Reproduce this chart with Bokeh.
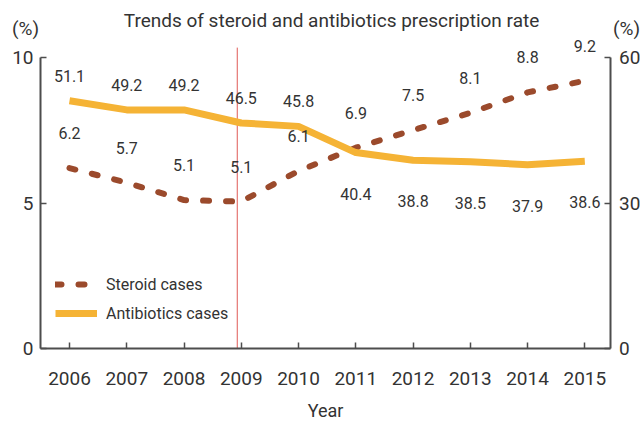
from bokeh.plotting import figure
from bokeh.models import (Range1d, LinearAxis, FixedTicker, Label, LabelSet, Legend, LegendItem, ColumnDataSource)
from bokeh.embed import file_html
from bokeh.resources import INLINE
from bokeh.core.properties import value

years = [2006, 2007, 2008, 2009, 2010, 2011, 2012, 2013, 2014, 2015]
steroid = [6.2, 5.7, 5.1, 5.05, 6.1, 6.9, 7.5, 8.1, 8.8, 9.2]
steroid_labels = ["6.2", "5.7", "5.1", "5.1", "6.1", "6.9", "7.5", "8.1", "8.8", "9.2"]
antibiotics = [51.1, 49.2, 49.2, 46.5, 45.8, 40.4, 38.8, 38.5, 37.9, 38.6]
antibiotics_labels = ["51.1", "49.2", "49.2", "46.5", "45.8", "40.4", "38.8", "38.5", "37.9", "38.6"]
left_ticks = [0, 5, 10]
right_ticks = [0, 30, 60]
marker_year = 2008.93
marker_top = 10.34
title_text = "Trends of steroid and antibiotics prescription rate"

FONT = "Roboto"
TXT = "#333333"
AX = "#4d4d4d"
BROWN = "#9b4a2c"
ORANGE = "#f5b335"

# frame fills the canvas; axes are pinned at fixed data locations
X0, X1 = 2004.795, 2016.025
Y0, Y1 = -2.543, 11.959
R0, R1 = Y0 * 6, Y1 * 6
LEFT_AX, RIGHT_AX = 2005.494, 2015.442

p = figure(width=643, height=422, output_backend="svg", toolbar_location=None,
           x_range=Range1d(X0, X1), y_range=Range1d(Y0, Y1),
           min_border_left=0, min_border_right=0, min_border_top=0, min_border_bottom=0)
p.extra_y_ranges = {"right": Range1d(R0, R1)}
p.outline_line_color = None
p.grid.visible = False
p.background_fill_color = "white"

def style_axis(ax):
    ax.axis_line_color = AX
    ax.axis_line_width = 2
    ax.major_tick_line_color = AX
    ax.major_tick_line_width = 1.5
    ax.major_tick_in = 6
    ax.major_tick_out = 0
    ax.minor_tick_line_color = None
    ax.major_label_text_font = FONT
    ax.major_label_text_font_size = "19px"
    ax.major_label_text_color = TXT

xa = p.xaxis[0]
style_axis(xa)
xa.fixed_location = 0
xa.bounds = (LEFT_AX, RIGHT_AX)
xa.ticker = FixedTicker(ticks=years)
xa.major_label_standoff = 23
xa.axis_label = "Year"
xa.axis_label_text_font = FONT
xa.axis_label_text_font_size = "18px"
xa.axis_label_text_font_style = "normal"
xa.axis_label_text_color = TXT
xa.axis_label_standoff = 12

ya = p.yaxis[0]
style_axis(ya)
ya.fixed_location = LEFT_AX
ya.ticker = FixedTicker(ticks=left_ticks)
ya.bounds = (0, 10)
ya.major_label_standoff = 7

ra = LinearAxis(y_range_name="right", ticker=FixedTicker(ticks=right_ticks), bounds=(0, 60),
                fixed_location=RIGHT_AX)
style_axis(ra)
ra.major_label_standoff = 9
p.add_layout(ra, "right")

p.segment(x0=[marker_year], y0=[0], x1=[marker_year], y1=[marker_top], line_color="#e05a55", line_width=1)

src = ColumnDataSource(dict(x=years, s=steroid, a=antibiotics, sl=steroid_labels, al=antibiotics_labels))
src_a1 = ColumnDataSource(dict(x=years[:5], a=antibiotics[:5], al=antibiotics_labels[:5]))
src_a2 = ColumnDataSource(dict(x=years[5:], a=antibiotics[5:], al=antibiotics_labels[5:]))

r_s = p.line("x", "s", source=src, line_color=BROWN, line_width=6, line_dash="6 17", line_cap="round")
r_a = p.line("x", "a", source=src, y_range_name="right", line_color=ORANGE, line_width=7, line_join="round")

lab_kw = dict(text_font=value(FONT), text_font_size="16px", text_color=TXT,
              text_align="center", text_baseline="middle")
p.add_layout(LabelSet(x="x", y="s", text="sl", source=src, y_offset=35, **lab_kw))
p.add_layout(LabelSet(x="x", y="a", text="al", source=src_a1, y_range_name="right", y_offset=25, **lab_kw))
p.add_layout(LabelSet(x="x", y="a", text="al", source=src_a2, y_range_name="right", y_offset=-41, **lab_kw))

p.add_layout(Label(x=2010.576, y=11.27, text=title_text, text_font=FONT, text_font_size="19px",
                   text_color=TXT, text_align="center", text_baseline="middle"))
for xx in (2005.232, 2015.73):
    p.add_layout(Label(x=xx, y=11.0, text="(%)", text_font=FONT, text_font_size="19px",
                       text_color=TXT, text_align="center", text_baseline="middle"))

legend = Legend(items=[LegendItem(label="Steroid cases", renderers=[r_s]),
                       LegendItem(label="Antibiotics cases", renderers=[r_a])],
                location=(55, 99), border_line_color=None, background_fill_alpha=0,
                padding=0, margin=0, spacing=9, glyph_width=42, glyph_height=20,
                label_standoff=9, label_text_font=FONT, label_text_font_size="16px",
                label_text_color=TXT, label_height=20)
p.add_layout(legend)

open("out.html", "w").write(file_html(p, INLINE))
